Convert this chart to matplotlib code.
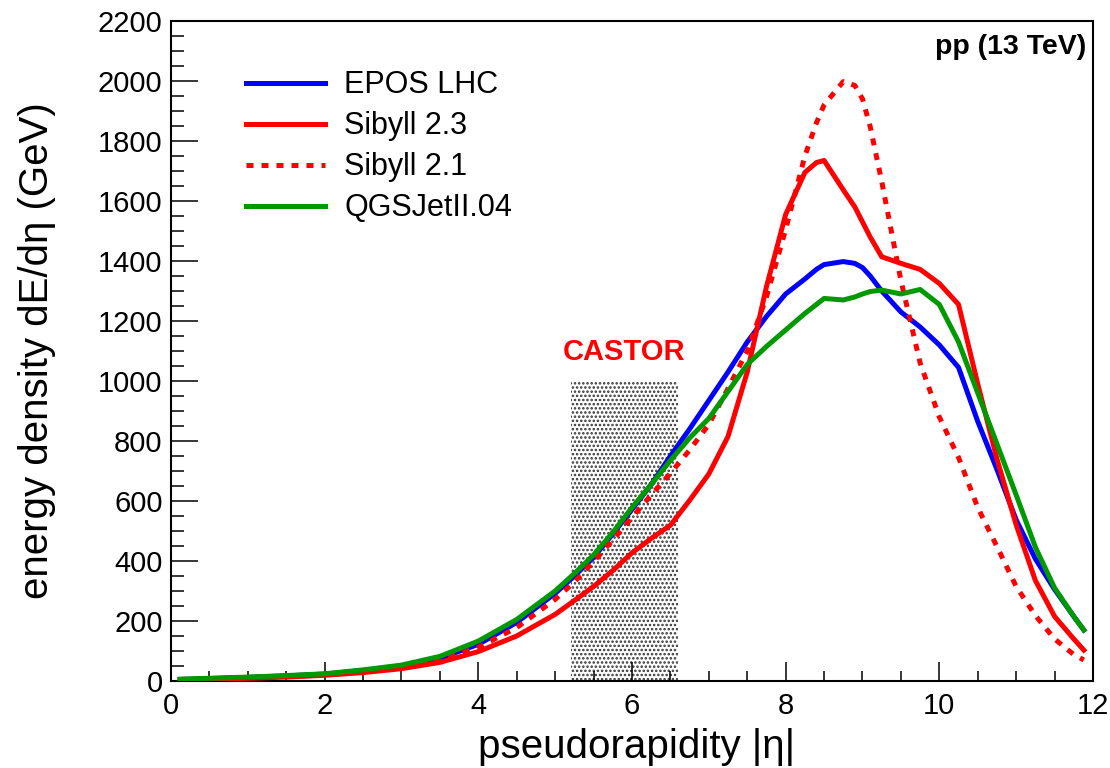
import matplotlib
matplotlib.use("Agg")
import matplotlib.pyplot as plt
from matplotlib.ticker import MultipleLocator

plt.rcParams['font.family'] = ['Liberation Sans', 'DejaVu Sans']
plt.rcParams['hatch.linewidth'] = 1.2

# pseudorapidity grid and energy flow per model (GeV)
eta = [0.12, 0.5, 1.0, 1.5, 2.0, 2.5, 3.0, 3.5, 4.0, 4.5, 5.0, 5.25, 5.5, 5.75,
       6.0, 6.25, 6.5, 6.75, 7.0, 7.25, 7.5, 7.75, 8.0, 8.25, 8.4, 8.5, 8.75,
       8.9, 9.0, 9.1, 9.25, 9.5, 9.75, 10.0, 10.25, 10.5, 10.75, 11.0, 11.25,
       11.5, 11.75, 11.88]

epos = [5, 8, 12, 17, 23, 35, 50, 76, 122, 195, 292, 350, 412, 490,
        572, 655, 750, 840, 935, 1030, 1130, 1215, 1290, 1340, 1372, 1388, 1398,
        1392, 1378, 1350, 1300, 1230, 1180, 1120, 1045, 865, 705, 537, 407,
        305, 215, 170]

sibyll23 = [4, 6, 9, 13, 19, 28, 41, 62, 98, 150, 222, 268, 315, 368,
            427, 475, 519, 602, 690, 815, 1030, 1314, 1555, 1695, 1728, 1735, 1637,
            1580, 1530, 1480, 1414, 1392, 1372, 1325, 1255, 990, 740, 520, 335,
            215, 140, 103]

sibyll21 = [5, 7, 11, 15, 21, 32, 46, 70, 112, 178, 272, 330, 398, 470,
            545, 620, 692, 770, 855, 975, 1100, 1280, 1505, 1750, 1860, 1920, 1998,
            1985, 1940, 1848, 1665, 1335, 1060, 880, 745, 578, 448, 315, 218,
            140, 88, 70]

qgsjet = [6, 9, 13, 18, 24, 37, 53, 82, 133, 205, 300, 358, 420, 495,
          578, 655, 735, 810, 875, 965, 1055, 1115, 1170, 1225, 1255, 1275, 1270,
          1280, 1290, 1298, 1303, 1290, 1305, 1255, 1130, 960, 790, 620, 446,
          310, 215, 170]

castor_lo, castor_hi, castor_top = 5.2, 6.6, 1000

fig = plt.figure(figsize=(11.1, 7.68), dpi=100)
ax = fig.add_axes([0.154, 0.1133, 0.8307, 0.8594])

ax.bar((castor_lo + castor_hi) / 2, castor_top, width=castor_hi - castor_lo,
       facecolor='white', edgecolor='#333333', hatch='....', linewidth=0, zorder=1)
ax.text((castor_lo + castor_hi) / 2, 1095, 'CASTOR', color='red', fontsize=21,
        fontweight='bold', ha='center', va='center')

lw = 3.6
ax.plot(eta, epos, color='#0000ff', lw=lw, label='EPOS LHC', zorder=3)
ax.plot(eta, sibyll23, color='#ff0000', lw=lw, label='Sibyll 2.3', zorder=3)
ax.plot(eta, sibyll21, color='#ff0000', lw=lw, ls=(0, (1.4, 1.6)),
        dash_capstyle='butt', label='Sibyll 2.1', zorder=3)
ax.plot(eta, qgsjet, color='#009900', lw=lw, label='QGSJetII.04', zorder=3)

ax.set_xlim(0, 12)
ax.set_ylim(0, 2200)
ax.xaxis.set_major_locator(MultipleLocator(2))
ax.xaxis.set_minor_locator(MultipleLocator(0.5))
ax.yaxis.set_major_locator(MultipleLocator(200))
ax.yaxis.set_minor_locator(MultipleLocator(50))
ax.tick_params(axis='both', which='both', direction='in', width=1.1, labelsize=21)
ax.tick_params(axis='x', which='major', length=13.7, pad=8)
ax.tick_params(axis='x', which='minor', length=7)
ax.tick_params(axis='y', which='major', length=19.4, pad=6)
ax.tick_params(axis='y', which='minor', length=9.6)
for s in ax.spines.values():
    s.set_linewidth(1.5)

ax.set_xlabel('pseudorapidity |η|', fontsize=29)
ax.set_ylabel('energy density dE/dη (GeV)', fontsize=29)
ax.xaxis.set_label_coords(0.505, -0.071)
ax.yaxis.set_label_coords(-0.125, 0.5)

ax.text(0.993, 0.96, 'pp (13 TeV)', transform=ax.transAxes, fontsize=20.5,
        fontweight='bold', ha='right', va='center')

ax.legend(loc='upper left', bbox_to_anchor=(0.0813, 0.925), frameon=False,
          fontsize=22, handlelength=2.6, handletextpad=0.62, labelspacing=0.36,
          borderpad=0, borderaxespad=0)

fig.savefig('out.png', dpi=100)
